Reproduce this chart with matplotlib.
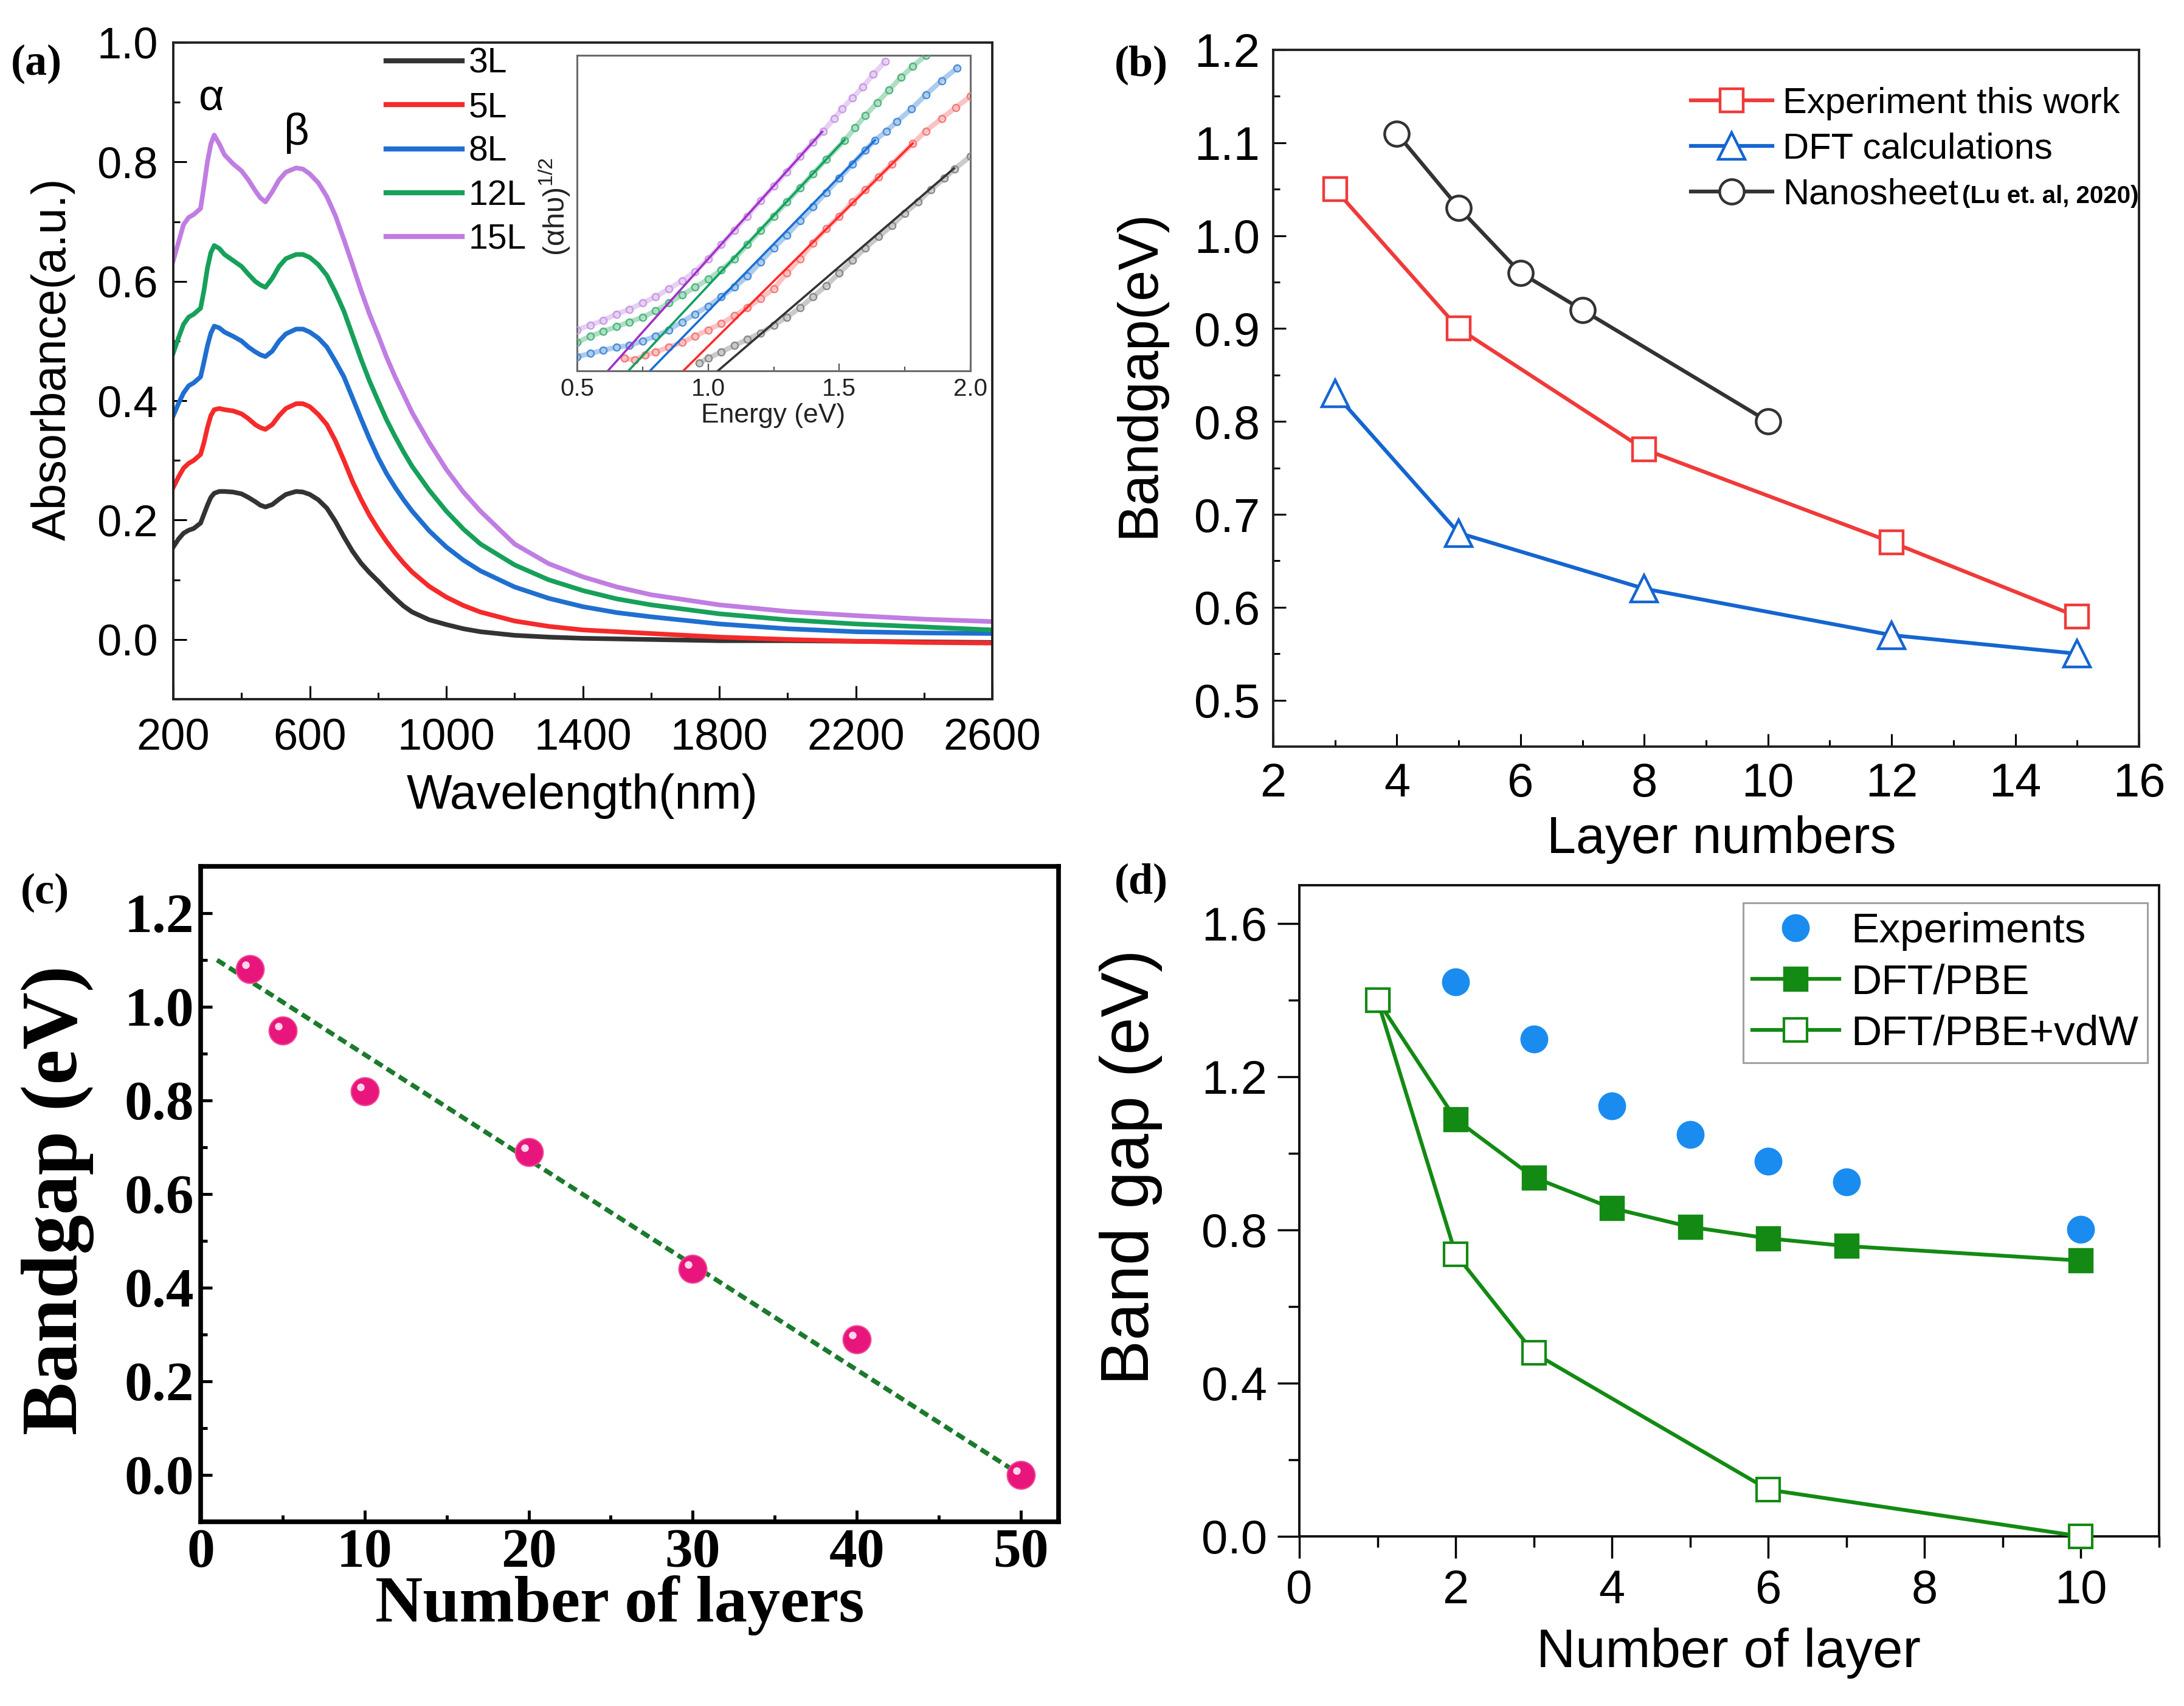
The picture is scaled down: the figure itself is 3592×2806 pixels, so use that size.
import matplotlib
matplotlib.use('Agg')
import matplotlib.pyplot as plt
from matplotlib.ticker import MultipleLocator, FixedLocator, FormatStrFormatter
import matplotlib.transforms as mtransforms

plt.rcParams['font.family'] = ['Liberation Sans', 'DejaVu Sans']
plt.rcParams['mathtext.fontset'] = 'custom'
plt.rcParams['mathtext.rm'] = 'Liberation Sans'

# ---------------- data ----------------
# (a) absorbance spectra
wavelength = [200, 215, 230, 245, 260, 280, 290, 300, 310, 320, 335, 350, 375, 400, 420, 440,
              455, 470, 490, 510, 530, 560, 580, 600, 625, 650, 675, 700, 725, 750, 775, 800,
              825, 850, 875, 900, 950, 1000, 1050, 1100, 1200, 1300, 1400, 1500, 1600, 1800,
              2000, 2200, 2400, 2600]
abs_3L = [.155, .168, .178, .183, .186, .195, .21, .225, .238, .245, .248, .248, .247, .244,
          .238, .231, .225, .222, .226, .235, .243, .248, .247, .243, .234, .22, .198, .172,
          .148, .128, .112, .098, .083, .069, .056, .046, .033, .025, .018, .013, .007, .004,
          .002, .001, 0.0, -.002, -.002, -.003, -.004, -.005]
abs_5L = [.255, .272, .287, .295, .30, .31, .33, .355, .375, .385, .387, .385, .383, .378,
          .37, .36, .355, .352, .36, .375, .387, .395, .395, .39, .377, .36, .333, .30, .265,
          .235, .208, .185, .164, .145, .128, .113, .089, .071, .057, .046, .031, .022, .016,
          .013, .01, .004, 0.0, -.003, -.005, -.006]
abs_8L = [.375, .395, .413, .425, .43, .44, .465, .492, .513, .525, .522, .515, .508, .50,
          .49, .482, .477, .474, .483, .50, .512, .52, .52, .515, .505, .49, .466, .44, .405,
          .37, .336, .305, .278, .255, .234, .215, .182, .155, .133, .115, .088, .069, .055,
          .045, .038, .026, .018, .013, .011, .01]
abs_12L = [.48, .505, .528, .54, .545, .555, .585, .622, .648, .66, .655, .645, .635, .625,
           .612, .60, .594, .59, .605, .625, .638, .645, .645, .64, .628, .61, .582, .55, .51,
           .47, .433, .40, .368, .34, .314, .29, .25, .215, .185, .16, .125, .10, .082, .068,
           .058, .043, .033, .026, .021, .016]
abs_15L = [.635, .665, .695, .707, .712, .722, .76, .80, .83, .845, .83, .812, .797, .785,
           .77, .752, .74, .733, .75, .77, .783, .79, .788, .78, .765, .742, .71, .67, .628,
           .585, .545, .51, .473, .44, .41, .38, .33, .285, .247, .215, .16, .127, .105, .088,
           .075, .058, .047, .04, .034, .03]
layer_labels_a = ['3L', '5L', '8L', '12L', '15L']
wl_ticks = [200, 600, 1000, 1400, 1800, 2200, 2600]

# (a) inset: Tauc plot (arbitrary units)
E_15L = [0.50, 0.55, 0.60, 0.65, 0.70, 0.75, 0.80, 0.85, 0.90, 0.95, 1.00, 1.05, 1.10, 1.15,
         1.20, 1.25, 1.30, 1.35, 1.40, 1.44, 1.48, 1.51, 1.55, 1.59, 1.63, 1.675]
T_15L = [0.13, 0.145, 0.16, 0.18, 0.195, 0.215, 0.235, 0.26, 0.285, 0.315, 0.355, 0.40, 0.445,
         0.49, 0.54, 0.585, 0.63, 0.68, 0.725, 0.76, 0.80, 0.83, 0.865, 0.90, 0.94, 0.98]
E_12L = [0.50, 0.55, 0.60, 0.65, 0.70, 0.75, 0.80, 0.85, 0.90, 0.95, 1.00, 1.05, 1.10, 1.15,
         1.20, 1.25, 1.30, 1.35, 1.40, 1.45, 1.52, 1.56, 1.60, 1.645, 1.69, 1.735, 1.78, 1.83]
T_12L = [0.09, 0.11, 0.125, 0.14, 0.155, 0.17, 0.19, 0.215, 0.24, 0.265, 0.29, 0.32, 0.355,
         0.40, 0.445, 0.49, 0.535, 0.58, 0.625, 0.67, 0.73, 0.77, 0.81, 0.85, 0.89, 0.93,
         0.965, 1.0]
E_8L = [0.50, 0.55, 0.60, 0.65, 0.70, 0.75, 0.80, 0.85, 0.90, 0.95, 1.00, 1.05, 1.10, 1.15,
        1.20, 1.25, 1.30, 1.35, 1.40, 1.45, 1.50, 1.55, 1.60, 1.635, 1.68, 1.72, 1.775, 1.83,
        1.89, 1.95]
T_8L = [0.045, 0.055, 0.065, 0.075, 0.08, 0.095, 0.11, 0.13, 0.155, 0.18, 0.205, 0.235, 0.265,
        0.30, 0.345, 0.39, 0.43, 0.475, 0.52, 0.565, 0.61, 0.655, 0.70, 0.73, 0.76, 0.79,
        0.83, 0.875, 0.92, 0.96]
E_5L = [0.68, 0.72, 0.76, 0.80, 0.85, 0.90, 0.95, 1.00, 1.05, 1.10, 1.15, 1.20, 1.25, 1.30,
        1.35, 1.40, 1.45, 1.50, 1.55, 1.60, 1.65, 1.70, 1.78, 1.83, 1.89, 1.945, 2.0]
T_5L = [0.04, 0.035, 0.05, 0.06, 0.075, 0.09, 0.11, 0.13, 0.15, 0.175, 0.20, 0.23, 0.26, 0.31,
        0.355, 0.405, 0.45, 0.49, 0.535, 0.575, 0.615, 0.655, 0.72, 0.76, 0.80, 0.835, 0.87]
E_3L = [0.965, 1.00, 1.05, 1.10, 1.15, 1.20, 1.25, 1.30, 1.35, 1.40, 1.45, 1.50, 1.55, 1.60,
        1.65, 1.70, 1.75, 1.80, 1.85, 1.90, 1.94, 2.0]
T_3L = [0.025, 0.04, 0.06, 0.08, 0.10, 0.12, 0.145, 0.17, 0.20, 0.235, 0.27, 0.31, 0.35, 0.39,
        0.425, 0.46, 0.50, 0.535, 0.575, 0.61, 0.64, 0.68]
fit_E_15L, fit_T_15L = [0.6175, 1.435], [0.0, 0.758]
fit_E_12L, fit_T_12L = [0.696, 1.521], [0.0, 0.733]
fit_E_8L, fit_T_8L = [0.778, 1.636], [0.0, 0.731]
fit_E_5L, fit_T_5L = [0.905, 1.780], [0.0, 0.721]
fit_E_3L, fit_T_3L = [1.037, 1.938], [0.0, 0.642]

# (b) band gap vs layer numbers
exp_layers = [3, 5, 8, 12, 15]
exp_gap = [1.05, 0.90, 0.77, 0.67, 0.59]
dft_layers = [3, 5, 8, 12, 15]
dft_gap = [0.83, 0.68, 0.62, 0.57, 0.55]
nano_layers = [4, 5, 6, 7, 10]
nano_gap = [1.11, 1.03, 0.96, 0.92, 0.80]

# (c) band gap vs number of layers
c_layers = [3, 5, 10, 20, 30, 40, 50]
c_gap = [1.08, 0.95, 0.82, 0.69, 0.44, 0.29, 0.00]
c_fit_x = [1, 50]
c_fit_y = [1.10, 0.0]

# (d) band gap vs number of layer
d_exp_layers = [2, 3, 4, 5, 6, 7, 10]
d_exp_gap = [1.448, 1.298, 1.124, 1.050, 0.980, 0.926, 0.801]
d_pbe_layers = [1, 2, 3, 4, 5, 6, 7, 10]
d_pbe_gap = [1.40, 1.089, 0.937, 0.857, 0.808, 0.778, 0.758, 0.720]
d_vdw_layers = [1, 2, 3, 6, 10]
d_vdw_gap = [1.40, 0.737, 0.479, 0.122, 0.0]

# ---------------- figure ----------------
W, H = 3592, 2806
DPI = 100
fig = plt.figure(figsize=(W / DPI, H / DPI), dpi=DPI)


def rect(l, t, r, b):
    return [l / W, 1 - b / H, (r - l) / W, (b - t) / H]


def ftext(x, y, s, **kw):
    return fig.text(x / W, 1 - y / H, s, **kw)


# ================= (a) =================
axA = fig.add_axes(rect(285, 70, 1632, 1150))
colors_a = ['#333333', '#f52a2a', '#1f6fd0', '#17a05a', '#c07de2']
for vals, c, lab in zip([abs_3L, abs_5L, abs_8L, abs_12L, abs_15L], colors_a, layer_labels_a):
    axA.plot(wavelength, vals, color=c, lw=5.5, label=lab, solid_joinstyle='round')
axA.set_xlim(200, 2600)
axA.set_ylim(-0.1, 1.0)
axA.xaxis.set_major_locator(FixedLocator(wl_ticks))
axA.xaxis.set_minor_locator(MultipleLocator(200))
axA.yaxis.set_major_locator(MultipleLocator(0.2))
axA.yaxis.set_minor_locator(MultipleLocator(0.1))
axA.yaxis.set_major_formatter(FormatStrFormatter('%.1f'))
axA.tick_params(which='both', direction='in', top=False, right=False, width=2.2)
axA.tick_params(which='major', length=16, labelsize=52)
axA.tick_params(axis='x', which='major', pad=22)
axA.tick_params(axis='y', which='major', pad=18)
axA.tick_params(which='minor', length=8)
for s in axA.spines.values():
    s.set_linewidth(2.8)
    s.set_color('#222222')
axA.text(312, 0.905, 'α', fontsize=52, ha='center', va='center')
axA.text(562, 0.848, 'β', fontsize=52, ha='center', va='center')
legA = axA.legend(loc='upper left', bbox_to_anchor=(635 / W, 1 - 78 / H),
                  bbox_transform=fig.transFigure, frameon=False, fontsize=41,
                  handlelength=2.2, handletextpad=0.18, labelspacing=0.32,
                  borderpad=0, borderaxespad=0)
for ln in legA.get_lines():
    ln.set_linewidth(6)
ftext(958, 1310, 'Wavelength(nm)', fontsize=57, ha='center', va='center')
ftext(87, 591, 'Absorbance(a.u.)', fontsize=56, ha='center', va='center', rotation=90)

# inset
axI = fig.add_axes(rect(949, 91, 1596, 610))
inset_sets = [
    (E_3L, T_3L, fit_E_3L, fit_T_3L, '#8a8a8a', '#333333'),
    (E_5L, T_5L, fit_E_5L, fit_T_5L, '#f57a7a', '#ff2a2a'),
    (E_8L, T_8L, fit_E_8L, fit_T_8L, '#4a8ed8', '#1a6fd8'),
    (E_12L, T_12L, fit_E_12L, fit_T_12L, '#4fb67e', '#10a060'),
    (E_15L, T_15L, fit_E_15L, fit_T_15L, '#c99ae6', '#a030c8'),
]
for E, T, fe, ft, cdot, cline in inset_sets:
    axI.plot(E, T, '-', color=cdot, lw=6, alpha=0.45, zorder=2, solid_capstyle='round')
    axI.plot(E, T, 'o', mfc='none', mec=cdot, ms=8, mew=1.8, zorder=3)
    axI.plot(fe, ft, '-', color=cline, lw=2.6, zorder=4)
axI.set_xlim(0.5, 2.0)
axI.set_ylim(0, 1.0)
axI.set_yticks([])
axI.xaxis.set_major_locator(MultipleLocator(0.5))
axI.xaxis.set_minor_locator(MultipleLocator(0.25))
axI.xaxis.set_major_formatter(FormatStrFormatter('%.1f'))
axI.tick_params(axis='x', which='both', direction='in', top=False, colors='#555555',
                labelcolor='#222222', width=1.6)
axI.tick_params(axis='x', which='major', length=9, labelsize=29, pad=8)
axI.tick_params(axis='x', which='minor', length=5)
for s in axI.spines.values():
    s.set_linewidth(2.2)
    s.set_color('#6a6a6a')
ftext(1272, 683, 'Energy (eV)', fontsize=32, ha='center', va='center', color='#222222')
ftext(912, 340, '(αhυ)$^{1/2}$', fontsize=35, ha='center', va='center',
      rotation=90, color='#222222')

# ================= (b) =================
axB = fig.add_axes(rect(2094, 82, 3518, 1228))
axB.plot(exp_layers, exp_gap, '-s', color='#f03a3a', lw=4.5, ms=27, mfc='white',
         mew=3.2, label='Experiment this work', zorder=3)
axB.plot(dft_layers, dft_gap, '-^', color='#1565d0', lw=4.5, ms=32, mfc='white',
         mew=3.2, label='DFT calculations', zorder=3)
axB.plot(nano_layers, nano_gap, '-o', color='#333333', lw=4.5, ms=29, mfc='white',
         mew=3.2, label='Nanosheet', zorder=3)
axB.set_xlim(2, 16)
axB.set_ylim(0.45, 1.2)
axB.xaxis.set_major_locator(MultipleLocator(2))
axB.xaxis.set_minor_locator(MultipleLocator(1))
axB.yaxis.set_major_locator(MultipleLocator(0.1))
axB.yaxis.set_minor_locator(MultipleLocator(0.05))
axB.yaxis.set_major_formatter(FormatStrFormatter('%.1f'))
axB.tick_params(which='both', direction='in', top=False, right=False, width=2.2)
axB.tick_params(which='major', length=15, labelsize=56)
axB.tick_params(axis='x', which='major', pad=18)
axB.tick_params(axis='y', which='major', pad=16)
axB.tick_params(which='minor', length=8)
for s in axB.spines.values():
    s.set_linewidth(2.8)
    s.set_color('#222222')
legB = axB.legend(loc='upper left', bbox_to_anchor=(2781 / W, 1 - 143 / H),
                  bbox_transform=fig.transFigure, frameon=False, fontsize=43,
                  handlelength=2.25, handletextpad=0.28, labelspacing=0.33,
                  borderpad=0, borderaxespad=0)
ftext(2831, 1381, 'Layer numbers', fontsize=62, ha='center', va='center')
ftext(1874, 614, 'Bandgap(eV)', fontsize=66, ha='center', va='center', rotation=90)

# ================= (c) =================
axC = fig.add_axes(rect(330, 1425, 1741, 2503))
axC.plot(c_fit_x, c_fit_y, color='#1b7a2c', lw=5.5, dashes=(2.0, 1.1), zorder=2)
axC.plot(c_layers, c_gap, 'o', color='#e8157c', ms=33, mec='#f04a95', mew=1.5, zorder=3)
hl = mtransforms.ScaledTranslation(-7 / DPI, 7 / DPI, fig.dpi_scale_trans)
axC.plot(c_layers, c_gap, 'o', color='#ffd6ea', ms=9, mew=0, zorder=4,
         transform=axC.transData + hl)
axC.set_xlim(0, 52.3)
axC.set_ylim(-0.1, 1.3)
axC.xaxis.set_major_locator(MultipleLocator(10))
axC.xaxis.set_minor_locator(MultipleLocator(5))
axC.yaxis.set_major_locator(MultipleLocator(0.2))
axC.yaxis.set_minor_locator(MultipleLocator(0.1))
axC.yaxis.set_major_formatter(FormatStrFormatter('%.1f'))
axC.tick_params(which='both', direction='in', top=False, right=False, width=3.5)
axC.tick_params(which='major', length=14, labelsize=66, pad=8)
axC.tick_params(which='minor', length=8)
for lab in axC.get_xticklabels() + axC.get_yticklabels():
    lab.set_fontfamily('Liberation Serif')
    lab.set_fontweight('bold')
for s in axC.spines.values():
    s.set_linewidth(5.5)
    s.set_color('black')
ftext(1019, 2640, 'Number of layers', fontsize=78, ha='center', va='center',
      family='Liberation Serif', weight='bold')
ftext(95, 1974, 'Bandgap (eV)', fontsize=94, ha='center', va='center', rotation=90,
      family='Liberation Serif', weight='bold')

# ================= (d) =================
axD = fig.add_axes(rect(2137, 1456, 3551, 2527))
green = '#138a13'
axD.plot(d_exp_layers, d_exp_gap, 'o', color='#1a8cf0', ms=33, mew=0, label='Experiments',
         zorder=3, clip_on=False)
axD.plot(d_pbe_layers, d_pbe_gap, '-s', color=green, lw=4.5, ms=28, mew=2.5,
         label='DFT/PBE', zorder=3, clip_on=False)
axD.plot(d_vdw_layers, d_vdw_gap, '-s', color=green, lw=4.5, ms=28, mew=3, mfc='white',
         label='DFT/PBE+vdW', zorder=4, clip_on=False)
axD.set_xlim(0, 11)
axD.set_ylim(0, 1.7)
axD.xaxis.set_major_locator(MultipleLocator(2))
axD.xaxis.set_minor_locator(MultipleLocator(1))
axD.yaxis.set_major_locator(MultipleLocator(0.4))
axD.yaxis.set_minor_locator(MultipleLocator(0.2))
axD.yaxis.set_major_formatter(FormatStrFormatter('%.1f'))
axD.tick_params(which='both', direction='out', top=False, right=False, width=2.5)
axD.tick_params(which='major', length=26, labelsize=56, pad=12)
axD.tick_params(which='minor', length=13)
for s in axD.spines.values():
    s.set_linewidth(2.8)
    s.set_color('#111111')
legD = axD.legend(loc='upper left', bbox_to_anchor=(2867 / W, 1 - 1485 / H),
                  bbox_transform=fig.transFigure, frameon=True, fancybox=False,
                  fontsize=50, handlelength=2.05, handletextpad=0.28, labelspacing=0.29,
                  borderpad=0.22, borderaxespad=0)
legD.get_frame().set_edgecolor('#8a8a8a')
legD.get_frame().set_linewidth(2.2)
ftext(2843, 2719, 'Number of layer', fontsize=64, ha='center', va='center')
ftext(1860, 1920, 'Band gap (eV)', fontsize=80, ha='center', va='center', rotation=90)

# ================= panel letters =================
for (x, y, s) in [(18, 105, '(a)'), (1833, 107, '(b)'), (34, 1468, '(c)'), (1833, 1452, '(d)')]:
    ftext(x, y, s, fontsize=52, ha='left', va='center', family='Liberation Serif',
          weight='bold')

# small bold citation after "Nanosheet" in legend (b)
fig.canvas.draw()
renderer = fig.canvas.get_renderer()
bb = legB.get_texts()[2].get_window_extent(renderer)
fig.text((bb.x1 + 6) / W, (bb.y0 + 13) / H, '(Lu et. al, 2020)', fontsize=29,
         weight='bold', ha='left', va='baseline')

fig.savefig('out.png', dpi=DPI)
